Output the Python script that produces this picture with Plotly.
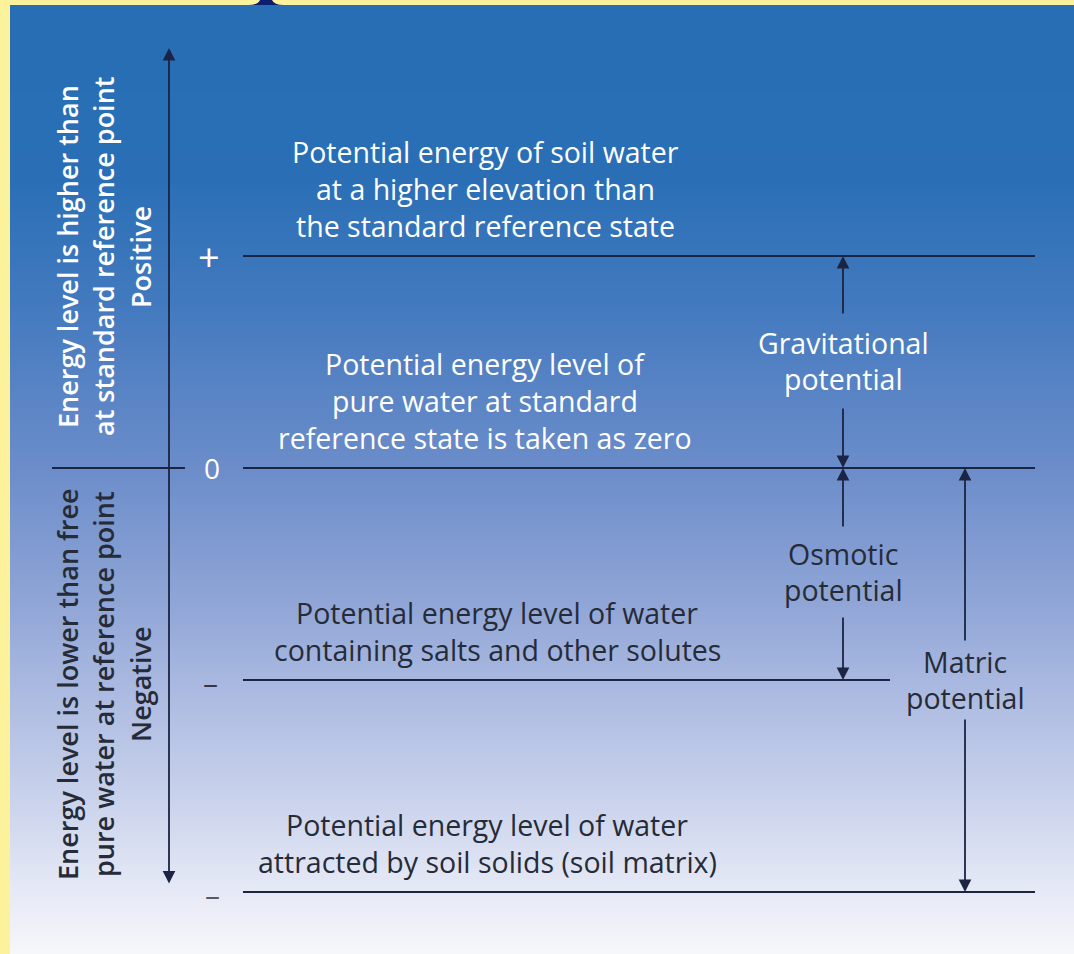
import numpy as np
import plotly.graph_objects as go

# ---------------- data ----------------
# Energy levels relative to the standard reference state (0)
level_values = [1, 0, -1, -2]
level_marks = ["+", "0", "–", "–"]
level_text = [
    ["Potential energy of soil water", "at a higher elevation than", "the standard reference state"],
    ["Potential energy level of", "pure water at standard", "reference state is taken as zero"],
    ["Potential energy level of water", "containing salts and other solutes"],
    ["Potential energy level of water", "attracted by soil solids (soil matrix)"],
]
# potential components: from the reference level to the level they describe
component_names = [["Gravitational", "potential"], ["Osmotic", "potential"], ["Matric", "potential"]]
component_from = [0, 0, 0]
component_to = [1, -1, -2]

side_upper = ["Energy level is higher than", "at standard reference point", "Positive"]
side_lower = ["Energy level is lower than free", "pure water at reference point", "Negative"]

# ---------------- layout / style ----------------
W, H = 1074, 954
ZERO_PX, UNIT_PX = 468.0, 212.0


def v(px):
    """vertical page position -> energy axis units"""
    return (ZERO_PX - px) / UNIT_PX


YELLOW = "#FCF29B"
LINE = "#1b2442"
DARK = "#262b38"
WHITE = "#ffffff"
FONT = "Open Sans"
TXT = 28.5

fig = go.Figure()

# background gradient panel
rows_px = np.arange(5, H + 1)
z = [[p] for p in rows_px[:-1]]
grad = [
    (5, "#276EB5"), (180, "#2A6FB6"), (300, "#4279BE"), (470, "#6C8DCA"),
    (600, "#8FA5D6"), (700, "#AEBCE2"), (800, "#CAD3EC"), (893, "#E7EAF6"), (954, "#F7F7FA"),
]
cs = [[(p - 5) / (H - 5), c] for p, c in grad]
fig.add_trace(go.Heatmap(
    x=[10, W + 2], y=[v(p) for p in rows_px], z=z, zmin=5, zmax=H,
    colorscale=cs, showscale=False, hoverinfo="skip",
))

shapes = []
annotations = []

# small navy tab at the very top
shapes.append(dict(type="path", xref="x", yref="y",
                   path=f"M 248 {v(5)} Q 258 {v(5)} 260 {v(0)} L 272 {v(0)} Q 274 {v(5)} 284 {v(5)} Z",
                   fillcolor="#0b1f6e", line=dict(width=0), layer="above"))

# level lines
line_x0 = [243, 243, 243, 243]
line_x1 = [1035, 1035, 890, 1035]
for lv, x0, x1 in zip(level_values, line_x0, line_x1):
    shapes.append(dict(type="line", xref="x", yref="y", x0=x0, x1=x1, y0=lv, y1=lv,
                       line=dict(color=LINE, width=2)))
# divider on the left at zero
shapes.append(dict(type="line", xref="x", yref="y", x0=52, x1=185, y0=0, y1=0,
                   line=dict(color=LINE, width=2)))

# level marks
mark_colors = [WHITE, WHITE, "#333844", "#555a66"]
mark_x = [209, 212, 210, 212]
mark_sizes = [38, 28, 30, 30]
mark_dy = [0.0, 0.0, -0.01, -0.01]
for lv, m, c, mx, ms, dy in zip(level_values, level_marks, mark_colors, mark_x, mark_sizes, mark_dy):
    annotations.append(dict(x=mx, y=lv + dy, text=m, showarrow=False,
                            font=dict(family=FONT, size=ms, color=c), xanchor="center", yanchor="middle"))

# level descriptions
text_cx = [485, 485, 497, 487]
text_colors = [WHITE, WHITE, DARK, DARK]
LINE_STEP = 37 / UNIT_PX
LAST_GAP = 30 / UNIT_PX
for lv, lines, cx, col in zip(level_values, level_text, text_cx, text_colors):
    n = len(lines)
    for i, t in enumerate(lines):
        yy = lv + LAST_GAP + (n - 1 - i) * LINE_STEP
        annotations.append(dict(x=cx, y=yy, text=t, showarrow=False,
                                font=dict(family=FONT, size=TXT, color=col),
                                xanchor="center", yanchor="middle"))

# component arrows and labels
comp_x = [843, 843, 965]
comp_label_px = [361, 572, 680]
comp_gap_px = [46, 44, 38]
comp_colors = [WHITE, DARK, DARK]
for name, f, t, cx, lp, gp, col in zip(component_names, component_from, component_to,
                                      comp_x, comp_label_px, comp_gap_px, comp_colors):
    top, bot = max(f, t), min(f, t)
    yc = v(lp)
    g = gp / UNIT_PX
    for head, tail in ((top, yc + g), (bot, yc - g)):
        annotations.append(dict(x=cx, y=head, ax=cx, ay=tail, xref="x", yref="y", axref="x", ayref="y",
                                text="", showarrow=True, arrowhead=2, arrowsize=1.4, arrowwidth=1.8,
                                arrowcolor=LINE, standoff=0))
    for i, w in enumerate(name):
        annotations.append(dict(x=cx, y=yc + (0.5 - i) * (36 / UNIT_PX), text=w, showarrow=False,
                                font=dict(family=FONT, size=TXT, color=col),
                                xanchor="center", yanchor="middle"))

# main vertical energy axis (double arrow)
annotations.append(dict(x=169, y=v(48), ax=169, ay=v(885), xref="x", yref="y", axref="x", ayref="y",
                        text="", showarrow=True, arrowhead=2, startarrowhead=2, arrowside="end+start",
                        arrowsize=1.4, startarrowsize=1.4, arrowwidth=1.8, arrowcolor=LINE, standoff=0,
                        startstandoff=0))

# rotated side labels
side_x = [67, 103, 140]
for lines, cpx, col in ((side_upper, 257, WHITE), (side_lower, 684, DARK)):
    for sx, t in zip(side_x, lines):
        annotations.append(dict(x=sx, y=v(cpx), text=t, textangle=-90, showarrow=False,
                                font=dict(family=FONT, size=27, color=col, weight=600),
                                xanchor="center", yanchor="middle"))

fig.update_layout(
    width=W, height=H, margin=dict(l=0, r=0, t=0, b=0),
    paper_bgcolor=YELLOW, plot_bgcolor=YELLOW,
    xaxis=dict(range=[0, W], visible=False, fixedrange=True),
    yaxis=dict(range=[v(H), v(0)], visible=False, fixedrange=True),
    shapes=shapes, annotations=annotations, showlegend=False,
)

fig.write_html("out.html", config={"displayModeBar": False},
               post_script="document.body.style.margin='0';document.body.style.overflow='hidden';")
